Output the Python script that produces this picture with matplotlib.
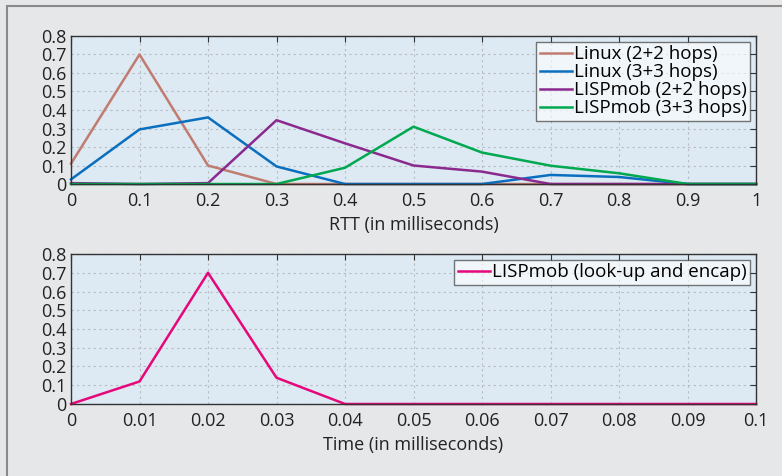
import matplotlib.pyplot as plt
from matplotlib.patches import Rectangle

# RTT distribution data (top panel)
rtt = [0, 0.1, 0.2, 0.3, 0.4, 0.5, 0.6, 0.7, 0.8, 0.9, 1.0]
linux_22 = [0.11, 0.70, 0.10, 0.0, 0.0, 0.0, 0.0, 0.0, 0.0, 0.0, 0.0]
linux_33 = [0.025, 0.295, 0.36, 0.095, 0.0, 0.0, 0.0, 0.049, 0.038, 0.0, 0.0]
lisp_22 = [0.005, 0.0, 0.005, 0.345, 0.22, 0.10, 0.067, 0.0, 0.0, 0.0, 0.0]
lisp_33 = [0.0, 0.0, 0.0, 0.0, 0.088, 0.31, 0.17, 0.099, 0.058, 0.0, 0.0]

# look-up and encap time data (bottom panel)
t = [0, 0.01, 0.02, 0.03, 0.04, 0.05, 0.06, 0.07, 0.08, 0.09, 0.1]
lookup = [0.0, 0.12, 0.70, 0.14, 0.0, 0.0, 0.0, 0.0, 0.0, 0.0, 0.0]

yticks = [0, 0.1, 0.2, 0.3, 0.4, 0.5, 0.6, 0.7, 0.8]
ytick_labels = ['0', '0.1', '0.2', '0.3', '0.4', '0.5', '0.6', '0.7', '0.8']

plt.rcParams['font.family'] = ['Open Sans', 'DejaVu Sans']
plt.rcParams['font.size'] = 13

fig = plt.figure(figsize=(7.82, 4.76), dpi=100)
fig.patch.set_facecolor('#e6e7e8')
fig.patches.append(Rectangle((7 / 782, -0.1), 1.2, (476 - 6) / 476 + 0.1,
                             transform=fig.transFigure, fill=False,
                             edgecolor='#8a8a8a', linewidth=1.5))

ax1 = fig.add_axes([0.0908, 0.6134, 0.876, 0.311])
ax2 = fig.add_axes([0.0908, 0.1513, 0.876, 0.315])


def style(ax, xticks, xlabels, xlabel):
    ax.set_facecolor('#dde9f3')
    ax.set_xticks(xticks)
    ax.set_xticklabels(xlabels)
    ax.set_yticks(yticks)
    ax.set_yticklabels(ytick_labels)
    ax.set_xlim(xticks[0], xticks[-1])
    ax.set_ylim(0, 0.8)
    ax.grid(True, linestyle=(0, (2, 3)), color='#b8bcc0', linewidth=0.8)
    ax.set_axisbelow(True)
    ax.tick_params(axis='x', direction='in', top=True, bottom=False, length=4,
                   pad=6, colors='#333333', labelcolor='#222222')
    ax.tick_params(axis='y', direction='in', right=True, left=False, length=4,
                   pad=3, colors='#333333', labelcolor='#222222')
    for s in ax.spines.values():
        s.set_color('#333333')
        s.set_linewidth(1.0)
    ax.set_xlabel(xlabel, color='#222222', labelpad=4)


style(ax1, rtt, ['0', '0.1', '0.2', '0.3', '0.4', '0.5', '0.6', '0.7', '0.8', '0.9', '1'],
      'RTT (in milliseconds)')
style(ax2, t, ['0', '0.01', '0.02', '0.03', '0.04', '0.05', '0.06', '0.07', '0.08', '0.09', '0.1'],
      'Time (in milliseconds)')

lw = 1.8
ax1.plot(rtt, linux_22, color='#c07c70', lw=lw, label='Linux (2+2 hops)', clip_on=False)
ax1.plot(rtt, linux_33, color='#0a6fbf', lw=lw, label='Linux (3+3 hops)', clip_on=False)
ax1.plot(rtt, lisp_22, color='#8b2a8e', lw=lw, label='LISPmob (2+2 hops)', clip_on=False)
ax1.plot(rtt, lisp_33, color='#00a84f', lw=lw, label='LISPmob (3+3 hops)', clip_on=False)

ax2.plot(t, lookup, color='#e5087a', lw=lw, label='LISPmob (look-up and encap)', clip_on=False)

for ax in (ax1, ax2):
    leg = ax.legend(loc='upper right', fancybox=False, framealpha=0.6,
                    edgecolor='#222222', facecolor='white', borderaxespad=0.3,
                    handlelength=1.7, handletextpad=0.1, borderpad=0.2,
                    labelspacing=0.0, fontsize=13.5)
    leg.get_frame().set_linewidth(1.0)

fig.savefig('out.png', dpi=100, facecolor=fig.get_facecolor())
